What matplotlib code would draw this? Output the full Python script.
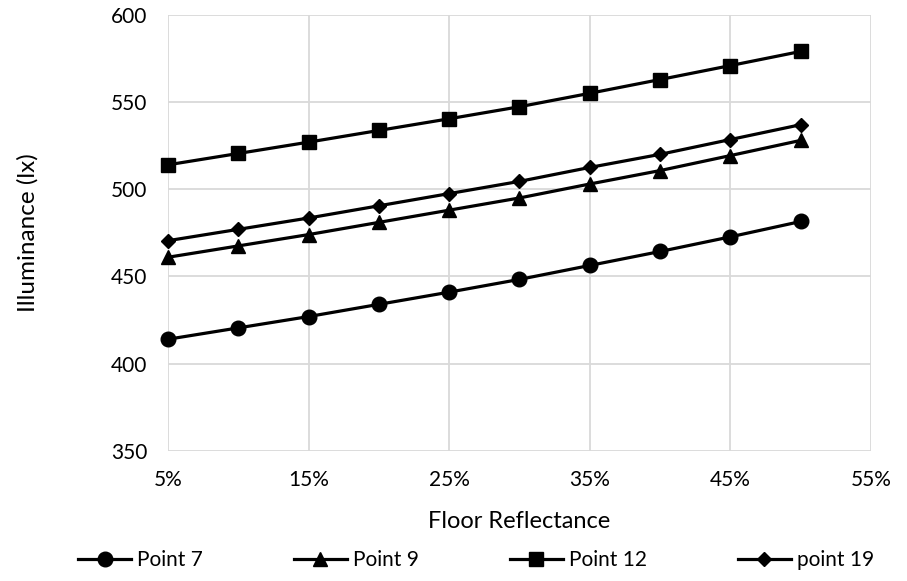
import matplotlib
matplotlib.use('agg')
import matplotlib.pyplot as plt
from matplotlib.ticker import FuncFormatter


# Floor reflectance (%) and illuminance (lx)
reflectance = [5, 10, 15, 20, 25, 30, 35, 40, 45, 50]
point_7 = [414, 420.5, 427, 434, 441, 448.3, 456.3, 464.3, 472.7, 481.5]
point_9 = [461, 467.5, 474, 481, 488, 495, 503, 510.7, 519.3, 528]
point_12 = [514, 520.5, 527, 533.7, 540.4, 547.3, 555, 562.9, 570.9, 579]
point_19 = [470.5, 477, 483.5, 490.5, 497.5, 504.5, 512.5, 520, 528.5, 537]

x_ticks = [5, 15, 25, 35, 45, 55]
y_ticks = [350, 400, 450, 500, 550, 600]

SERIES = [('Point 7', point_7, 'o', 10.5), ('Point 9', point_9, '^', 10.5),
          ('Point 12', point_12, 's', 10.0), ('point 19', point_19, 'D', 7.5)]

plt.rcParams['font.family'] = ['Lato', 'DejaVu Sans']

fig = plt.figure(figsize=(9.07, 5.81), dpi=100)
ax = fig.add_axes([0.1852, 0.224, 0.7751, 0.7505])

for label, values, marker, size in SERIES:
    ax.plot(reflectance, values, color='black', linewidth=2.3,
            marker=marker, markersize=size, label=label, clip_on=False,
            zorder=3)

ax.set_xlim(5, 55)
ax.set_ylim(350, 600)
ax.set_xticks(x_ticks)
ax.set_yticks(y_ticks)
ax.xaxis.set_major_formatter(FuncFormatter(lambda v, p: '{:.0f}%'.format(v)))

ax.grid(True, color='#d9d9d9', linewidth=1.3)
ax.set_axisbelow(True)
for spine in ax.spines.values():
    spine.set_visible(False)
ax.tick_params(axis='x', length=0, labelsize=15, colors='black', pad=14)
ax.tick_params(axis='y', length=0, labelsize=15, colors='black', pad=15)

ax.set_xlabel('Floor Reflectance', fontsize=17, color='black', labelpad=15)
ax.set_ylabel('Illuminance (lx)', fontsize=17.5, color='black', labelpad=52)

fig.legend(loc='center', bbox_to_anchor=(0.525, 0.036), ncol=4,
           frameon=False, fontsize=15, handlelength=2.55, handletextpad=0.3,
           columnspacing=4.35, labelcolor='black')

fig.savefig('out.png', dpi=100)
